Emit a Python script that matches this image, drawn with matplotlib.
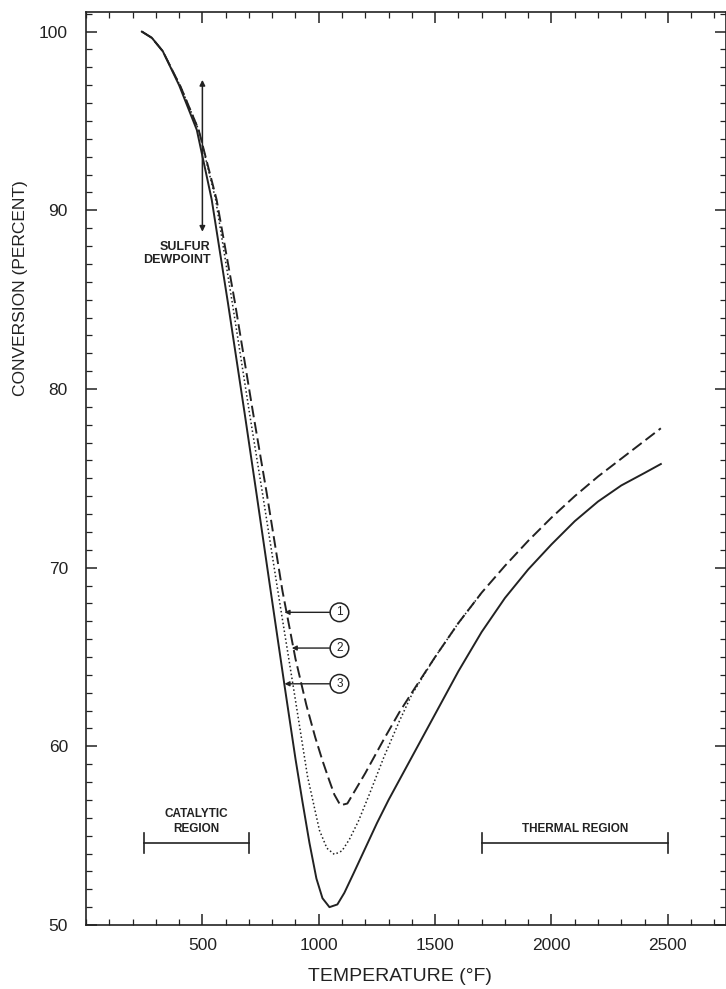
import matplotlib
matplotlib.use("Agg")
import matplotlib.pyplot as plt
from matplotlib.ticker import MultipleLocator
import numpy as np

# curva 3 (linea continua)
temp_solida = [240, 283, 330, 400, 476, 540, 610, 682, 733, 790, 853, 900, 930, 960, 990, 1016, 1046,
               1080, 1110, 1150, 1200, 1250, 1300, 1400, 1500, 1600, 1700, 1800, 1900, 2000,
               2100, 2200, 2300, 2400, 2470]
conv_solida = [100, 99.65, 98.9, 97.0, 94.5, 90.6, 84.8, 78.6, 74.1, 69.0, 63.4, 59.3, 56.9, 54.6, 52.6, 51.5, 51.0,
               51.15, 51.8, 52.9, 54.3, 55.7, 57.0, 59.4, 61.8, 64.2, 66.4, 68.3, 69.9, 71.3,
               72.6, 73.7, 74.6, 75.3, 75.8]

# curva 2 (punteada)
temp_punteada = [240, 283, 330, 407, 484, 557, 630, 703, 759, 823, 896, 952, 1003, 1035, 1067,
                 1100, 1132, 1170, 1217, 1280, 1346, 1400, 1500, 1600, 1700]
conv_punteada = [100, 99.65, 98.9, 96.9, 94.5, 90.6, 84.7, 78.6, 74.1, 68.8, 62.9, 58.3, 55.3, 54.3, 53.95,
                 54.15, 54.8, 55.8, 57.3, 59.4, 61.4, 62.9, 65.0, 66.9, 68.6]

# curva 1 (discontinua)
temp_discontinua = [240, 283, 330, 407, 484, 561, 639, 716, 776, 844, 900, 947, 985, 1016, 1045, 1067,
                    1093, 1123, 1200, 1280, 1346, 1400, 1500, 1600, 1700, 1800, 1900, 2000,
                    2100, 2200, 2300, 2400, 2470]
conv_discontinua = [100, 99.65, 98.9, 96.9, 94.5, 90.6, 84.9, 78.8, 74.2, 68.7, 64.9, 62.3, 60.5, 59.2, 58.1, 57.3,
                    56.7, 56.8, 58.5, 60.4, 61.9, 63.0, 65.0, 66.9, 68.6, 70.1, 71.5, 72.8,
                    74.0, 75.1, 76.1, 77.1, 77.8]

# etiquetas numeradas: numero, punta de la flecha, posicion del circulo
etiquetas_num = ["1", "2", "3"]
flecha_x = [853, 884, 853]
flecha_y = [67.5, 65.5, 63.5]
circulo_x = 1089

# regiones
region_catalitica = (250, 700)
region_termica = (1700, 2500)
nivel_regiones = 54.6

# punto de rocio del azufre
rocio_temp = 500
rocio_rango = (97.3, 88.8)

x_ticks = [500, 1000, 1500, 2000, 2500]
y_ticks = [50, 60, 70, 80, 90, 100]

plt.rcParams['font.family'] = ['Liberation Sans', 'DejaVu Sans']
color = '#222222'

fig = plt.figure(figsize=(7.26, 9.89), dpi=100)
ax = fig.add_axes([0.1185, 0.0647, 0.8815, 0.9232])

ax.plot(temp_solida, conv_solida, color=color, lw=1.4, solid_joinstyle='round')
ax.plot(temp_punteada, conv_punteada, color=color, lw=1.1, linestyle=(0, (1, 1.6)))
ax.plot(temp_discontinua, conv_discontinua, color=color, lw=1.4, linestyle=(0, (6, 2.5)),
        dash_joinstyle='round')

ax.set_xlim(0, 2750)
ax.set_ylim(50, 101.1)
ax.set_xticks(x_ticks)
ax.set_yticks(y_ticks)
ax.xaxis.set_minor_locator(MultipleLocator(100))
ax.yaxis.set_minor_locator(MultipleLocator(1))
ax.tick_params(which='both', direction='in', top=True, right=True, colors=color,
               labelsize=12.5)
ax.tick_params(axis='y', pad=13)
ax.tick_params(axis='x', pad=9)
ax.tick_params(which='major', length=8, width=1.1)
ax.tick_params(which='minor', length=4, width=0.9)
for s in ax.spines.values():
    s.set_linewidth(1.2)
    s.set_color(color)

ax.set_xlabel('TEMPERATURE (°F)', fontsize=14, color=color)
ax.xaxis.set_label_coords(0.49, -0.047)
ax.set_ylabel('CONVERSION (PERCENT)', fontsize=12.5, color=color)
ax.yaxis.set_label_coords(-0.09, 0.697)

# flecha del punto de rocio
ax.annotate('', xy=(rocio_temp, rocio_rango[0]), xytext=(rocio_temp, rocio_rango[1]),
            arrowprops=dict(arrowstyle='<|-|>', color=color, lw=1.1,
                            mutation_scale=8, shrinkA=0, shrinkB=0))
ax.text(rocio_temp + 35, rocio_rango[1] - 0.5, 'SULFUR\nDEWPOINT', ha='right', va='top',
        fontsize=9, fontweight='bold', color=color, linespacing=1.2)

# numeros en circulos
for num, fx, fy in zip(etiquetas_num, flecha_x, flecha_y):
    ax.annotate(num, xy=(fx, fy), xytext=(circulo_x, fy), ha='center', va='center',
                fontsize=8.5, color=color,
                bbox=dict(boxstyle='circle,pad=0.28', fc='white', ec=color, lw=1.1),
                arrowprops=dict(arrowstyle='-|>', color=color, lw=1.0, mutation_scale=7,
                                shrinkA=0, shrinkB=0))

# barras de regiones
for (a, b), txt in zip([region_catalitica, region_termica], ['CATALYTIC\nREGION', 'THERMAL REGION']):
    ax.plot([a, b], [nivel_regiones, nivel_regiones], color=color, lw=1.2)
    ax.plot([a, a], [nivel_regiones - 0.55, nivel_regiones + 0.55], color=color, lw=1.2)
    ax.plot([b, b], [nivel_regiones - 0.55, nivel_regiones + 0.55], color=color, lw=1.2)
    ax.text((a + b) / 2, nivel_regiones + 0.45, txt, ha='center', va='bottom',
            fontsize=8.5, fontweight='bold', color=color, linespacing=1.3)

fig.savefig('out.png', dpi=100)
